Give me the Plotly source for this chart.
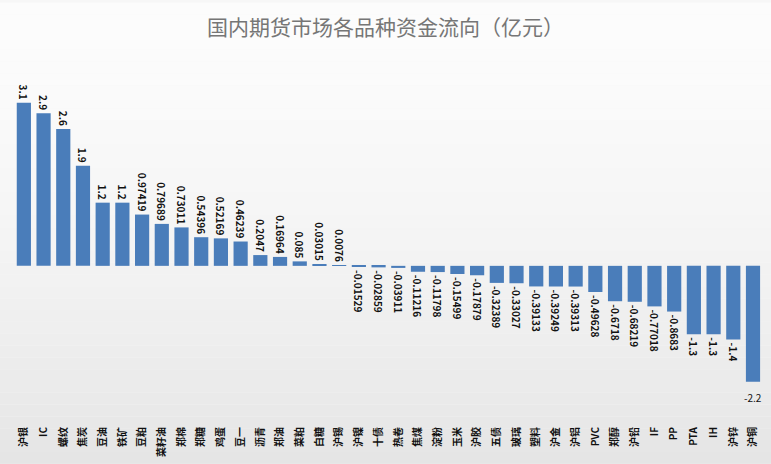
import plotly.graph_objects as go

categories = ["沪银", "IC", "螺纹", "焦炭", "豆油", "铁矿", "豆粕", "菜籽油", "郑棉", "郑糖",
              "鸡蛋", "豆一", "沥青", "郑油", "菜粕", "白糖", "沪锡", "沪镍", "十债", "热卷",
              "焦煤", "淀粉", "玉米", "沪胶", "五债", "玻璃", "塑料", "沪金", "沪铝", "PVC",
              "郑醇", "沪铅", "IF", "PP", "PTA", "IH", "沪锌", "沪铜"]
values = [3.1, 2.9, 2.6, 1.9, 1.2, 1.2, 0.97419, 0.79689, 0.73011, 0.54396,
          0.52169, 0.46239, 0.2047, 0.16964, 0.085, 0.03015, 0.0076, -0.01529, -0.02859, -0.03911,
          -0.11216, -0.11798, -0.15499, -0.17879, -0.32389, -0.33027, -0.39133, -0.39249, -0.39313, -0.49628,
          -0.6718, -0.68219, -0.77018, -0.8683, -1.3, -1.3, -1.4, -2.2]
value_labels = ["3.1", "2.9", "2.6", "1.9", "1.2", "1.2", "0.97419", "0.79689", "0.73011", "0.54396",
                "0.52169", "0.46239", "0.2047", "0.16964", "0.085", "0.03015", "0.0076", "-0.01529", "-0.02859", "-0.03911",
                "-0.11216", "-0.11798", "-0.15499", "-0.17879", "-0.32389", "-0.33027", "-0.39133", "-0.39249", "-0.39313", "-0.49628",
                "-0.6718", "-0.68219", "-0.77018", "-0.8683", "-1.3", "-1.3", "-1.4", "-2.2"]
title = "国内期货市场各品种资金流向（亿元）"

FONT = "Noto Sans CJK SC"

bar_text = value_labels[:-1] + [""]

fig = go.Figure()
fig.add_trace(go.Bar(
    x=categories, y=values, text=bar_text,
    textposition="outside", textangle=90, cliponaxis=False, constraintext="none",
    textfont=dict(family=FONT, size=10, color="#111111", weight="bold"),
    marker=dict(color="#4a7dba", line=dict(width=0)),
    hoverinfo="x+y",
))

# horizontal label for the last bar
fig.add_annotation(x=categories[-1], y=values[-1], text=value_labels[-1], showarrow=False,
                   yanchor="top", yshift=-6, font=dict(family=FONT, size=10, color="#111111"))

# background gradient bands (white to light grey)
n = 40
shapes = []
for i in range(n):
    t = i / (n - 1)
    g0 = 252
    g1 = 228
    g = int(round(g0 + (g1 - g0) * (t ** 1.6)))
    shapes.append(dict(type="rect", xref="paper", yref="paper",
                       x0=-0.05, x1=1.05, y0=1.2 - (i + 1) * (1.4 / n), y1=1.2 - i * (1.4 / n),
                       fillcolor=f"rgb({g},{g},{g})", line=dict(width=0), layer="below"))

fig.update_layout(
    width=771, height=464,
    margin=dict(l=14, r=7, t=70, b=54),
    paper_bgcolor="#f7f7f7", plot_bgcolor="rgba(0,0,0,0)",
    shapes=shapes,
    title=dict(text=title, x=0.5, xanchor="center", y=0.94, yanchor="middle",
               font=dict(family=FONT, size=21, color="#767676")),
    bargap=0.28,
    showlegend=False,
    xaxis=dict(tickangle=-90, showgrid=False, zeroline=False, showline=False, ticks="",
               ticklabelstandoff=16,
               tickfont=dict(family=FONT, size=10, color="#111111", weight="bold")),
    yaxis=dict(range=[-2.70, 3.72], visible=False, showgrid=False, zeroline=False),
)

fig.write_html("out.html")
